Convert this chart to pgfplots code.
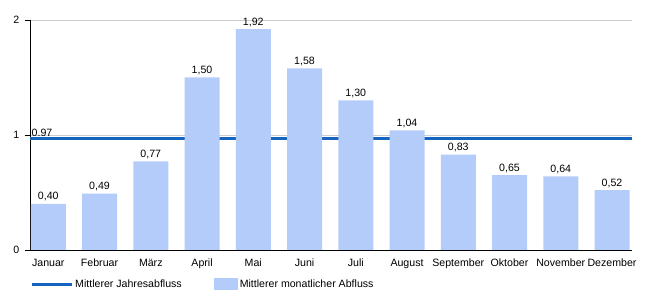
\documentclass[border=0pt]{standalone}
\usepackage{fontspec}
\setmainfont{Liberation Sans}
\usepackage{pgfplots}
\pgfplotsset{compat=1.18}
\definecolor{barblue}{HTML}{B3CCF9}
\definecolor{lineblue}{HTML}{1565C0}
\definecolor{gridgrey}{HTML}{CCCCCC}
\newcommand{\fs}{\fontsize{10.6bp}{12.7bp}\selectfont}
\begin{document}
\fs
\begin{tikzpicture}
\useasboundingbox (-30bp,-50bp) rectangle (620bp,250bp);
\begin{axis}[
  scale only axis,
  width=602bp, height=230bp,
  xmin=-0.357, xmax=11.39,
  ymin=0, ymax=2,
  axis x line*=bottom,
  axis y line*=left,
  axis line style={black, line width=0.8bp},
  xtick={0,1,2,3,4,5,6,7,8,9,10,11},
  xticklabels={Januar,Februar,März,April,Mai,Juni,Juli,August,September,Oktober,November,Dezember},
  x tick style={draw=none},
  ytick={0,1,2},
  y tick style={black, line width=0.8bp},
  tick align=outside,
  major tick length=5bp,
  ymajorgrids,
  grid style={gridgrey, line width=0.8bp},
  /pgf/number format/assume math mode=true,
  tick label style={font=\fs},
  yticklabel style={xshift=-2bp},
  legend columns=2,
  legend style={at={(0,-0.148)}, anchor=west, draw=none, fill=none, inner sep=0pt,
    font=\fs,
    /tikz/every even column/.append style={column sep=30bp}},
  legend cell align=left,
]
\addplot[lineblue, line width=3bp,
  legend image code/.code={\draw[lineblue, line width=3bp] (-3bp,0) -- (37bp,0);}]
  coordinates {(-0.357,0.97) (11.39,0.97)};
\addlegendentry{Mittlerer Jahresabfluss}
\addplot[ybar, bar width=0.683, draw=none, fill=barblue, bar shift=0,
  nodes near coords,
  every node near coord/.append style={font=\fs, black, inner sep=2.5bp},
  nodes near coords style={/pgf/number format/.cd, use comma, fixed, fixed zerofill, precision=2, assume math mode=true},
  legend image code/.code={\fill[barblue] (0bp,-6bp) rectangle (24bp,6bp);}]
  coordinates {(0,0.40) (1,0.49) (2,0.77) (3,1.50) (4,1.92) (5,1.58) (6,1.30) (7,1.04) (8,0.83) (9,0.65) (10,0.64) (11,0.52)};
\addlegendentry{Mittlerer monatlicher Abfluss}
\node[anchor=south west, inner sep=1.5bp, font=\fs] at (axis cs:-0.357,0.97) {0.97};
\end{axis}
\end{tikzpicture}
\end{document}
